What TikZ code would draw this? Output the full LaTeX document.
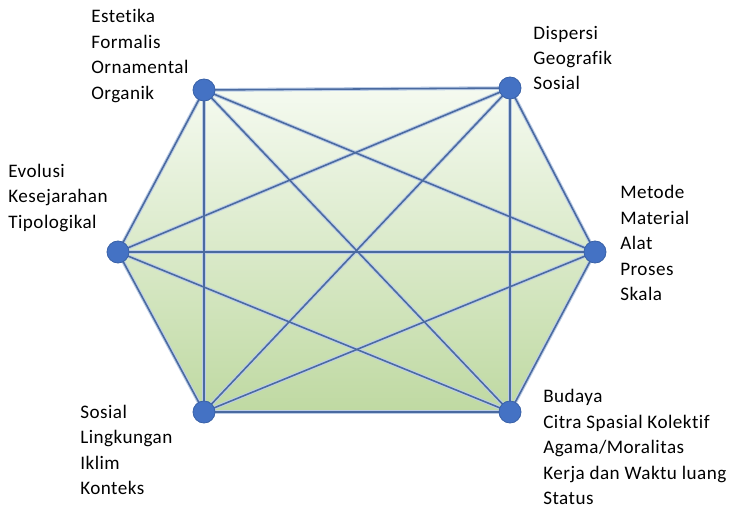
\documentclass[tikz,border=0pt]{standalone}
\usepackage{fontspec}
\setmainfont{Carlito}[LetterSpace=2.5,Ligatures=NoCommon]
\definecolor{linkblue}{HTML}{4A6AA0}
\definecolor{linkglow}{HTML}{BCCDE6}
\definecolor{dotblue}{HTML}{4472C4}
\definecolor{dotedge}{HTML}{3A62A8}
\definecolor{filltop}{HTML}{F5FAF0}
\definecolor{fillbot}{HTML}{BFD9A2}
\begin{document}
\begin{tikzpicture}[x=0.025cm,y=-0.025cm,
  vertex/.style={circle,fill=dotblue,draw=dotedge,line width=0.6pt,minimum size=0.55cm,inner sep=0pt},
  link/.style={draw=linkblue,line width=1.1pt},
  glow/.style={draw=linkglow,line width=2.6pt},
  tag/.style={anchor=west,align=left,font=\fontsize{13.6}{18.1}\selectfont,inner sep=0pt}]
\useasboundingbox (0,0) rectangle (740,510);

% vertex positions
\coordinate (tl) at (204,90);
\coordinate (tr) at (510,88);
\coordinate (r)  at (595,252);
\coordinate (br) at (510,412);
\coordinate (bl) at (204,412);
\coordinate (l)  at (118,252);

% shaded hexagon
\shade[top color=filltop,bottom color=fillbot] (tl) -- (tr) -- (r) -- (br) -- (bl) -- (l) -- cycle;

% all connections between the six vertices
\foreach \a/\b in {tl/tr,tl/r,tl/br,tl/bl,tl/l,tr/r,tr/br,tr/bl,tr/l,r/br,r/bl,r/l,br/bl,br/l,bl/l}
  \path[glow] (\a) -- (\b);
\foreach \a/\b in {tl/tr,tl/r,tl/br,tl/bl,tl/l,tr/r,tr/br,tr/bl,tr/l,r/br,r/bl,r/l,br/bl,br/l,bl/l}
  \path[link] (\a) -- (\b);

% vertex dots
\node[vertex] (ntl) at (tl) {};
\node[vertex] (ntr) at (tr) {};
\node[vertex] (nr)  at (r)  {};
\node[vertex] (nbr) at (br) {};
\node[vertex] (nbl) at (bl) {};
\node[vertex] (nl)  at (l)  {};

% aspect labels
\node[tag] (ttl) at (91,56)  {Estetika\\Formalis\\Ornamental\\Organik};
\node[tag] (ttr) at (533,58) {Dispersi\\Geografik\\Sosial};
\node[tag] (tl2) at (8,198)  {Evolusi\\Kesejarahan\\Tipologikal};
\node[tag] (tr2) at (620,243) {Metode\\Material\\Alat\\Proses\\Skala};
\node[tag] (tbr) at (543,447) {Budaya\\Citra Spasial Kolektif\\Agama/Moralitas\\Kerja dan Waktu luang\\Status};
\node[tag] (tbl) at (80,450) {Sosial\\Lingkungan\\Iklim\\Konteks};
\end{tikzpicture}
\end{document}
